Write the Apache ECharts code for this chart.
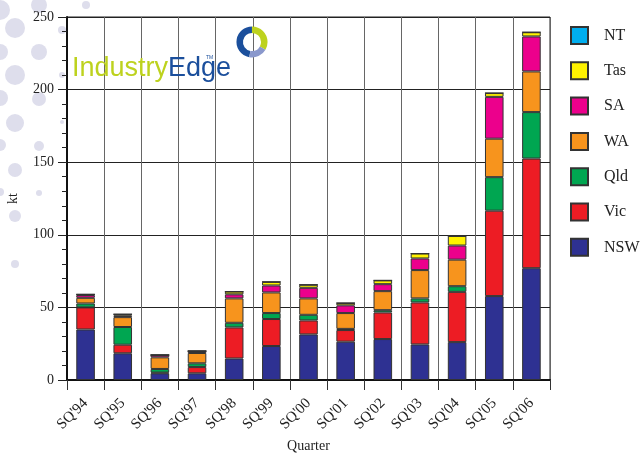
<!DOCTYPE html>
<html>
<head>
<meta charset="utf-8">
<script src="https://cdn.jsdelivr.net/npm/echarts@6/dist/echarts.min.js"></script>
<style>
  html, body { margin: 0; padding: 0; background: #ffffff; }
  #chart { width: 643px; height: 455px; }
</style>
</head>
<body>
<div id="chart"></div>
<script>
// Quarterly output by state, kt
const quarters = ["SQ'94", "SQ'95", "SQ'96", "SQ'97", "SQ'98", "SQ'99", "SQ'00",
                  "SQ'01", "SQ'02", "SQ'03", "SQ'04", "SQ'05", "SQ'06"];
const nsw = [34.8, 18.4, 4.6, 4.6, 14.8, 23.4, 31.4, 26.4, 28.2, 24.5, 26.1, 57.8, 77.0];
const vic = [15.2, 5.9, 0.5, 4.3, 21.4, 18.6, 9.6, 8.0, 18.3, 28.9, 34.6, 58.8, 75.5];
const qld = [2.7, 12.2, 2.5, 2.6, 3.2, 4.1, 3.9, 0.8, 1.6, 2.8, 3.9, 23.1, 32.0];
const wa  = [3.9, 6.8, 8.0, 7.1, 16.8, 14.2, 11.3, 10.9, 13.1, 19.5, 18.3, 26.5, 28.0];
const sa  = [1.9, 1.0, 1.6, 1.3, 2.8, 4.8, 7.3, 5.3, 4.8, 8.0, 9.7, 28.8, 24.1];
const tas = [0.5, 1.0, 0.0, 0.0, 1.9, 2.5, 2.1, 1.6, 2.6, 3.4, 6.6, 2.6, 2.9];
const nt  = [0, 0, 0, 0, 0, 0, 0, 0, 0, 0, 0, 0, 0];
const yTicks = [0, 50, 100, 150, 200, 250];

const serif = "'Liberation Serif', 'Times New Roman', serif";
const logoFont = "'Liberation Sans', Arial, sans-serif";

const seriesDefs = [
  { name: 'NSW', data: nsw, color: '#2e3192' },
  { name: 'Vic', data: vic, color: '#ed1c24' },
  { name: 'Qld', data: qld, color: '#00a651' },
  { name: 'WA',  data: wa,  color: '#f7941d' },
  { name: 'SA',  data: sa,  color: '#ec008c' },
  { name: 'Tas', data: tas, color: '#fff200' },
  { name: 'NT',  data: nt,  color: '#00aeef' }
];

// decorative dots along the left margin
const dots = [
  [0, 10, 10], [39, 5, 8], [86, 5, 4], [15, 28, 10], [62, 30, 4], [0, 52, 8], [39, 52, 8],
  [15, 75, 10], [62, 75, 3], [0, 98, 8], [39, 99, 7], [15, 123, 9], [62, 122, 2],
  [0, 145, 6], [39, 146, 5], [15, 170, 7], [0, 192, 4], [39, 193, 3], [15, 216, 6],
  [15, 264, 4]
];

const chart = echarts.init(document.getElementById('chart'), null, { renderer: 'canvas' });

const graphics = dots.map(d => ({
  type: 'circle', z: -10, silent: true,
  shape: { cx: d[0], cy: d[1], r: d[2] },
  style: { fill: '#dedeec' }
}));

// logo: wordmark and ring
graphics.push({
  type: 'text', z: 50, silent: true,
  x: 72, y: 55,
  style: {
    text: '{a|Industry}{b|Edge}',
    rich: {
      a: { fontFamily: logoFont, fontSize: 27, fill: '#bdd21e' },
      b: { fontFamily: logoFont, fontSize: 27, fill: '#1b4f9c' }
    }
  }
});
graphics.push({
  type: 'text', z: 50, silent: true, x: 206, y: 55,
  style: { text: 'TM', fontSize: 5, fontFamily: 'sans-serif', fill: '#1b4f9c' }
});
const ringC = [252, 42], ringR = 12.3, ringW = 6.5;
[
  [1.75, 4.71, '#1b4f9c'],
  [4.71, 6.80, '#bdd21e'],
  [0.52, 1.75, '#8a98cc']
].forEach(a => graphics.push({
  type: 'arc', z: 50, silent: true,
  shape: { cx: ringC[0], cy: ringC[1], r: ringR, startAngle: a[0], endAngle: a[1], clockwise: true },
  style: { stroke: a[2], lineWidth: ringW, fill: null }
}));

const option = {
  backgroundColor: '#ffffff',
  animation: false,
  graphic: graphics,
  grid: {
    left: 67, top: 17, width: 483, height: 363,
    containLabel: false,
    outerBoundsMode: 'none',
    show: true, borderColor: '#222', borderWidth: 1
  },
  legend: {
    orient: 'vertical',
    left: 570, top: 26,
    itemWidth: 17, itemHeight: 17, itemGap: 16.3,
    padding: 0,
    icon: 'rect',
    data: ['NT', 'Tas', 'SA', 'WA', 'Qld', 'Vic', 'NSW'],
    textStyle: { fontFamily: serif, fontSize: 16, color: '#222', padding: [0, 0, 0, 11] }
  },
  xAxis: {
    type: 'category',
    data: quarters,
    name: 'Quarter',
    nameLocation: 'middle',
    nameGap: 59,
    nameTextStyle: { fontFamily: serif, fontSize: 14, color: '#222' },
    axisLine: { lineStyle: { color: '#111', width: 2 } },
    axisTick: { show: true, inside: false, interval: 0, length: 10, lineStyle: { color: '#333', width: 1 } },
    axisLabel: { interval: 0, rotate: 45, margin: 21, fontFamily: serif, fontSize: 15, color: '#222' },
    splitLine: { show: true, interval: 0, lineStyle: { color: '#666', width: 1 } }
  },
  yAxis: {
    type: 'value',
    min: yTicks[0], max: yTicks[yTicks.length - 1], interval: 50,
    name: 'kt',
    nameLocation: 'middle',
    nameGap: 47,
    nameTextStyle: { fontFamily: serif, fontSize: 14, color: '#222' },
    axisLine: { show: true, lineStyle: { color: '#111', width: 2 } },
    axisTick: { show: true, inside: false, length: 9, lineStyle: { color: '#222', width: 1 } },
    minorTick: { show: true, splitNumber: 5, length: 5, lineStyle: { color: '#222', width: 1 } },
    axisLabel: { margin: 13, fontFamily: serif, fontSize: 14, color: '#222' },
    splitLine: { show: true, lineStyle: { color: '#222', width: 1 } }
  },
  series: seriesDefs.map(s => ({
    name: s.name,
    type: 'bar',
    stack: 'total',
    barWidth: '50%',
    data: s.data,
    itemStyle: { color: s.color, borderColor: '#333', borderWidth: 1 },
    emphasis: { disabled: true }
  }))
};

chart.setOption(option);
</script>
</body>
</html>
